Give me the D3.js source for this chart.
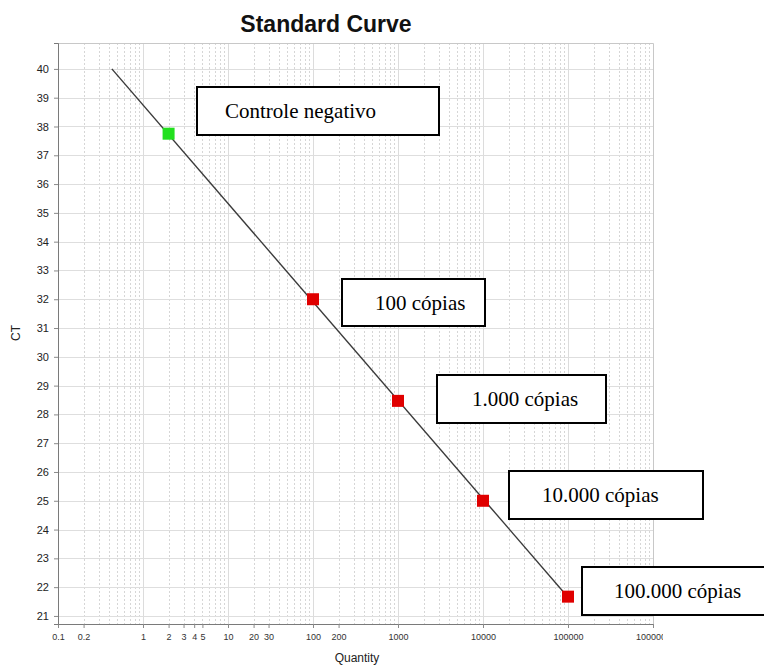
<!DOCTYPE html>
<html>
<head>
<meta charset="utf-8">
<script src="https://cdn.jsdelivr.net/npm/d3@7"></script>
<style>
  html, body { margin: 0; padding: 0; background: #fff; }
  svg { display: block; }
</style>
</head>
<body>
<div id="chart"></div>
<script>
// data
const quantities = [2, 100, 1000, 10000, 100000];
const ctValues = [37.75, 32.0, 28.47, 25.0, 21.67];
const pointKinds = ["control", "standard", "standard", "standard", "standard"];
const labelTexts = ["Controle negativo", "100 cópias", "1.000 cópias", "10.000 cópias", "100.000 cópias"];

// fitted standard curve end points
const fitQty = [0.43, 100000];
const fitCt = [40, 21.65];

// tick labels
const xTickValues = [0.1, 0.2, 1, 2, 3, 4, 5, 10, 20, 30, 100, 200, 1000, 10000, 100000, 1000000];
const yTickValues = [21, 22, 23, 24, 25, 26, 27, 28, 29, 30, 31, 32, 33, 34, 35, 36, 37, 38, 39, 40];

// annotation boxes (pixel layout, one per label)
const boxLayout = [
  { x: 197, y: 87, w: 242, h: 48, tx: 225 },
  { x: 342, y: 279, w: 143, h: 47, tx: 375 },
  { x: 437, y: 375, w: 169, h: 48, tx: 472 },
  { x: 509, y: 471, w: 194, h: 48, tx: 542 },
  { x: 582, y: 567, w: 190, h: 48, tx: 614 }
];

const widthValue = 764;
const heightValue = 665;
const plot = { left: 58, right: 653, top: 43, bottom: 624 };

const svg = d3.select("#chart")
  .append("svg")
  .attr("width", widthValue)
  .attr("height", heightValue);

const xScale = d3.scaleLog()
  .domain([0.1, 1000000])
  .range([plot.left, plot.right]);

const yScale = d3.scaleLinear()
  .domain([20.72, 40.9])
  .range([plot.bottom, plot.top]);

// grid: minor log lines dotted, decades solid
const minorX = [];
const majorX = [];
for (let e = -1; e < 6; e++) {
  majorX.push(Math.pow(10, e));
  for (let m = 2; m < 10; m++) minorX.push(m * Math.pow(10, e));
}

const grid = svg.append("g").attr("class", "grid");

grid.selectAll("line.minor-x")
  .data(minorX)
  .enter()
  .append("line")
    .attr("class", "minor-x")
    .attr("x1", d => Math.round(xScale(d)) + 0.5)
    .attr("x2", d => Math.round(xScale(d)) + 0.5)
    .attr("y1", plot.top)
    .attr("y2", plot.bottom)
    .attr("stroke", "#d6d6d6")
    .attr("stroke-dasharray", "2,2");

grid.selectAll("line.major-x")
  .data(majorX)
  .enter()
  .append("line")
    .attr("class", "major-x")
    .attr("x1", d => Math.round(xScale(d)) + 0.5)
    .attr("x2", d => Math.round(xScale(d)) + 0.5)
    .attr("y1", plot.top)
    .attr("y2", plot.bottom)
    .attr("stroke", "#dcdcdc");

grid.selectAll("line.major-y")
  .data(yTickValues)
  .enter()
  .append("line")
    .attr("class", "major-y")
    .attr("x1", plot.left)
    .attr("x2", plot.right)
    .attr("y1", d => Math.round(yScale(d)) + 0.5)
    .attr("y2", d => Math.round(yScale(d)) + 0.5)
    .attr("stroke", "#dedede");

// frame top and right
svg.append("path")
  .attr("d", `M${plot.left},${plot.top + 0.5}H${plot.right + 0.5}V${plot.bottom}`)
  .attr("fill", "none")
  .attr("stroke", "#c8c8c8");

// x axis, last label is cut off in the original
svg.append("clipPath").attr("id", "xclip")
  .append("rect")
  .attr("x", 0).attr("y", 0).attr("width", 663).attr("height", heightValue);

const xAxis = svg.append("g")
  .attr("transform", `translate(0, ${plot.bottom})`)
  .attr("clip-path", "url(#xclip)")
  .call(d3.axisBottom(xScale)
    .tickValues(xTickValues)
    .tickFormat(d => String(d))
    .tickSize(4)
    .tickPadding(6));

// y axis
const yAxis = svg.append("g")
  .attr("transform", `translate(${plot.left}, 0)`)
  .call(d3.axisLeft(yScale)
    .tickValues(yTickValues)
    .tickSize(4)
    .tickPadding(5));

xAxis.select(".domain").attr("stroke", "#7a7a7a");
yAxis.select(".domain").attr("stroke", "#7a7a7a");
xAxis.selectAll(".tick line").attr("stroke", "#8a8a8a");
yAxis.selectAll(".tick line").attr("stroke", "#8a8a8a");
xAxis.selectAll(".tick text")
  .attr("font-family", "Arial, 'Liberation Sans', sans-serif")
  .attr("font-size", 9)
  .attr("fill", "#333");
yAxis.selectAll(".tick text")
  .attr("font-family", "Arial, 'Liberation Sans', sans-serif")
  .attr("font-size", 11)
  .attr("fill", "#222");

// fitted curve
const line = d3.line()
  .x(d => xScale(d[0]))
  .y(d => yScale(d[1]));

svg.append("path")
  .datum(d3.zip(fitQty, fitCt))
  .attr("d", line)
  .attr("fill", "none")
  .attr("stroke", "#3a3a3a")
  .attr("stroke-width", 1.4);

// points
const markerSize = 12;
svg.append("g")
  .selectAll("rect")
  .data(d3.zip(quantities, ctValues, pointKinds))
  .enter()
  .append("rect")
    .attr("x", d => xScale(d[0]) - markerSize / 2)
    .attr("y", d => yScale(d[1]) - markerSize / 2)
    .attr("width", markerSize)
    .attr("height", markerSize)
    .attr("fill", d => d[2] === "control" ? "#22e01e" : "#e00000");

// annotation boxes
const boxes = svg.append("g")
  .selectAll("g")
  .data(labelTexts)
  .enter()
  .append("g");

boxes.append("rect")
  .attr("x", (d, i) => boxLayout[i].x)
  .attr("y", (d, i) => boxLayout[i].y)
  .attr("width", (d, i) => boxLayout[i].w)
  .attr("height", (d, i) => boxLayout[i].h)
  .attr("fill", "#fff")
  .attr("stroke", "#000")
  .attr("stroke-width", 2);

boxes.append("text")
  .attr("x", (d, i) => boxLayout[i].tx)
  .attr("y", (d, i) => boxLayout[i].y + boxLayout[i].h / 2 + 7)
  .attr("font-family", "'Times New Roman', 'Liberation Serif', serif")
  .attr("font-size", 21)
  .attr("fill", "#000")
  .text(d => d);

// title and axis labels
svg.append("text")
  .attr("x", 326)
  .attr("y", 32)
  .attr("text-anchor", "middle")
  .attr("font-family", "Arial, 'Liberation Sans', sans-serif")
  .attr("font-weight", "bold")
  .attr("font-size", 23)
  .attr("fill", "#111")
  .text("Standard Curve");

svg.append("text")
  .attr("x", 357)
  .attr("y", 662)
  .attr("text-anchor", "middle")
  .attr("font-family", "Arial, 'Liberation Sans', sans-serif")
  .attr("font-size", 12)
  .attr("fill", "#222")
  .text("Quantity");

svg.append("text")
  .attr("transform", "translate(20, 333) rotate(-90)")
  .attr("text-anchor", "middle")
  .attr("font-family", "Arial, 'Liberation Sans', sans-serif")
  .attr("font-size", 12)
  .attr("fill", "#222")
  .text("CT");
</script>
</body>
</html>
